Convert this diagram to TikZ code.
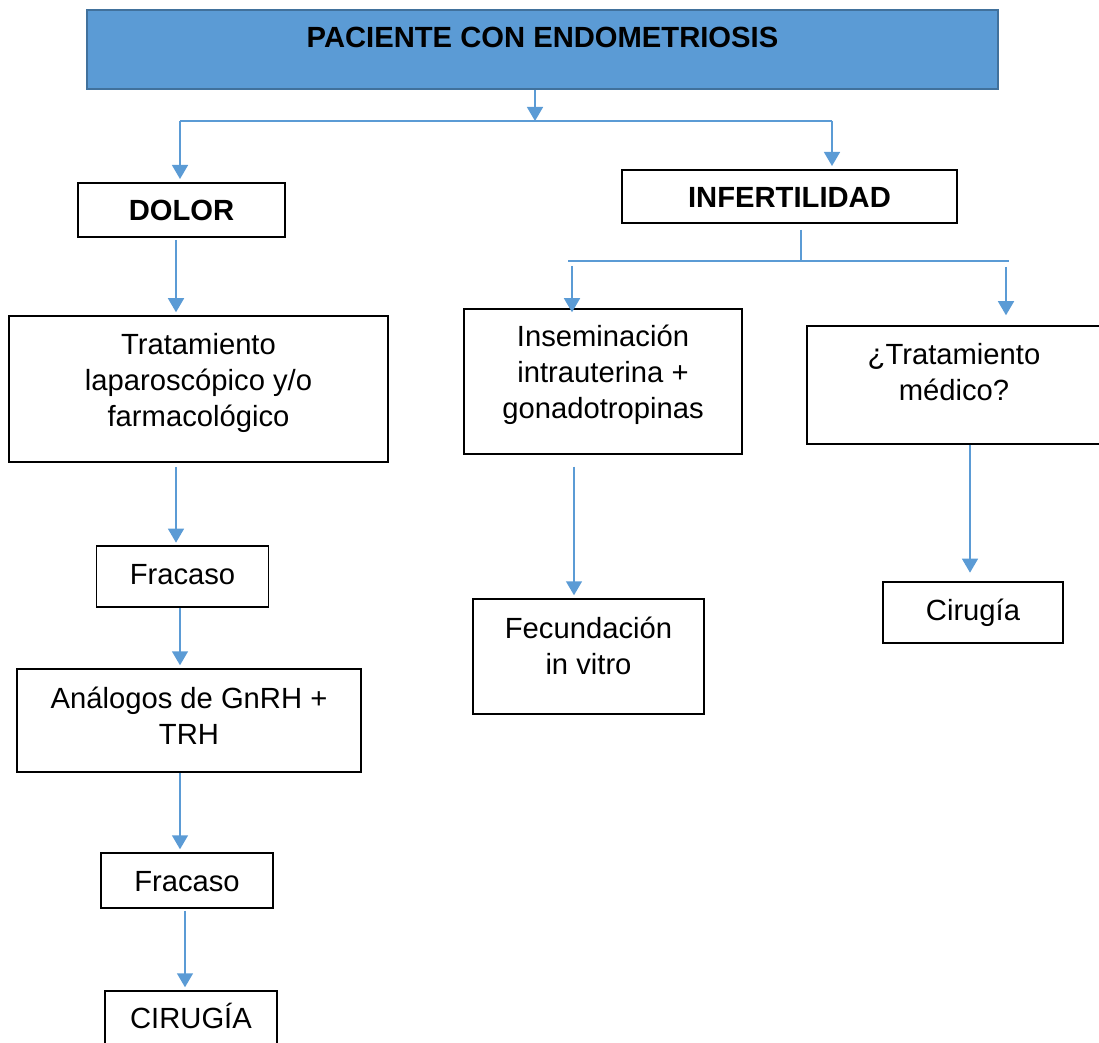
\documentclass[tikz,border=0pt]{standalone}
\usepackage{fontspec}
\setmainfont{Liberation Sans}
\usetikzlibrary{arrows.meta}
\definecolor{boxblue}{HTML}{5B9BD5}
\definecolor{boxedge}{HTML}{41719C}
\definecolor{lineblue}{HTML}{5B9BD5}
\tikzset{
	basics/.style={draw=black, line width=0.75pt, inner sep=0pt, align=center, font=\fontsize{14.6}{18}\selectfont, text height=19pt},
	head/.style={basics, line width=1.25pt, draw=boxedge, fill=boxblue, font=\fontsize{14.6}{18}\selectfont\bfseries},
	branch/.style={basics, line width=1pt, font=\fontsize{14.6}{18}\selectfont\bfseries},
	process/.style={basics},
	line/.style={draw=lineblue, line width=0.75pt},
	arrow/.style={line, -{Triangle[width=8pt,length=7pt]}, shorten >=1.5pt},
}

\begin{document}
\begin{tikzpicture}[x=0.5pt, y=-0.5pt]
\useasboundingbox (0,0) rectangle (1099,1043);
\node (top) [head, minimum width=455.5pt, text depth=20.5pt] at (542.5,49.5) {PACIENTE CON ENDOMETRIOSIS};
\node (dolor) [branch, minimum width=103.5pt, text depth=8pt] at (181.5,210) {DOLOR};
\node (infert) [branch, minimum width=167.5pt, text depth=7.5pt] at (789.5,196.5) {INFERTILIDAD};
% rama dolor
\node (trat) [process, minimum width=189.5pt, text height=55.5pt, text depth=17.5pt] at (198.5,389) {Tratamiento\\laparoscópico y/o\\farmacológico};
\node (frac1) [process, minimum width=86pt, text height=19.25pt, text depth=11.25pt] at (182.5,576.5) {Fracaso};
\node (analog) [process, minimum width=172pt, text height=37.5pt, text depth=14pt] at (189,720.5) {Análogos de GnRH +\\TRH};
\node (frac2) [process, minimum width=86pt, text depth=8.5pt] at (187,880.5) {Fracaso};
\node (cirug) [process, minimum width=86pt, text height=18.5pt, text depth=16pt] at (191,1025.5) {CIRUGÍA};
% rama infertilidad
\node (insem) [process, minimum width=139pt, text height=55pt, text depth=17.5pt] at (603,381.5) {Inseminación\\intrauterina +\\gonadotropinas};
\node (trat2) [process, minimum width=147pt, text height=37.5pt, text depth=21.5pt] at (954,385) {¿Tratamiento\\médico?};
\node (fecund) [process, minimum width=115.5pt, text height=37.5pt, text depth=20pt] at (588.5,656.5) {Fecundación\\in vitro};
\node (cirug2) [process, minimum width=90pt, text depth=11.5pt] at (973,612.5) {Cirugía};

\coordinate (br) at (535,121);
\coordinate (bl) at (180,121);
\coordinate (bR) at (832,121);
\draw [arrow, shorten >=0pt] (br |- top.south) -- (br);
\draw [line] (bl) -- (bR);
\draw [arrow] (bl) -- (bl |- dolor.north);
\draw [arrow] (bR) -- (bR |- infert.north);
\foreach \a/\b/\x/\s/\e in {dolor/trat/176/1/1.5, trat/frac1/176/2.3/1.3, frac1/analog/180/0/1.5, analog/frac2/180/0/1.5, frac2/cirug/185/1/1.5, insem/fecund/574/6/1.5, trat2/cirug2/970/0/4.3}
\draw [arrow, shorten <=\s pt, shorten >=\e pt] (\a.south -| \x,0) -- (\b.north -| \x,0);

\coordinate (ib) at (801,261);
\coordinate (ibl) at (568,261);
\coordinate (ibr) at (1009,261);
\coordinate (ia) at (572,261);
\coordinate (ic) at (1006,261);
\draw [line, shorten <=3pt] (infert.south -| ib) -- (ib);
\draw [line] (ibl) -- (ibr);
\draw [arrow, shorten <=2.5pt, shorten >=-2pt] (ia) -- (ia |- insem.north);
\draw [arrow, shorten <=3pt, shorten >=5pt] (ic) -- (ic |- trat2.north);
\end{tikzpicture}
\end{document}
